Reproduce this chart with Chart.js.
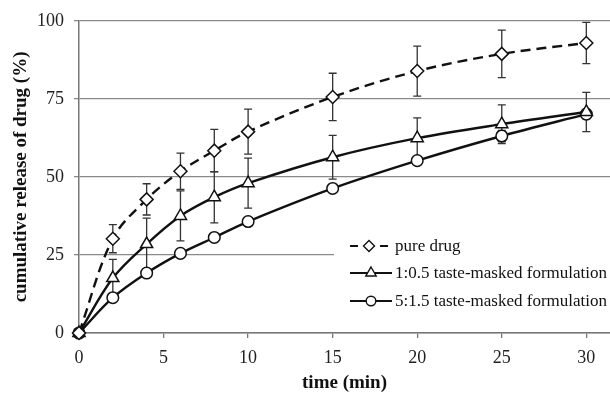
<!DOCTYPE html>
<html>
<head>
<meta charset="utf-8">
<script src="https://cdn.jsdelivr.net/npm/chart.js@4/dist/chart.umd.min.js"></script>
<style>body{margin:0;background:#fff}</style>
</head>
<body>
<canvas id="myChart" width="610" height="393"></canvas>
<script>
const times = [0, 2, 4, 6, 8, 10, 15, 20, 25, 30];
const xTicks = [0, 5, 10, 15, 20, 25, 30];
const yTicks = [0, 25, 50, 75, 100];

const pureDrug = [0, 30.2, 42.8, 51.8, 58.4, 64.5, 75.6, 83.9, 89.4, 92.9];
const pureDrugErr = [0, 4.5, 5, 5.8, 6.8, 7.2, 7.6, 8, 7.6, 6.6];
const tm105 = [0, 17.6, 28.5, 37.5, 43.5, 48, 56.3, 62.4, 66.9, 70.8];
const tm105Err = [0, 6, 8.3, 8, 8.2, 8, 7, 6.5, 6.2, 6.3];
const tm515 = [0, 11.3, 19.2, 25.5, 30.6, 35.7, 46.3, 55.2, 63.1, 70.1];
const tm515Err = [0, 0.8, 0.8, 0.8, 0.8, 0.8, 1, 1.2, 1.8, 1.5];

const serif = "'Liberation Serif', 'Times New Roman', serif";
const toPoints = (vals) => times.map((t, i) => ({ x: t, y: vals[i] }));

const errorBars = {
  id: "errorBars",
  beforeDatasetsDraw(chart) {
    const ctx = chart.ctx;
    const xs = chart.scales.x;
    const ys = chart.scales.y;
    ctx.save();
    ctx.strokeStyle = "#333";
    ctx.lineWidth = 1.3;
    chart.data.datasets.forEach((ds) => {
      ds.errors.forEach((e, i) => {
        if (!e) return;
        const px = xs.getPixelForValue(times[i]);
        const top = ys.getPixelForValue(ds.data[i].y + e);
        const bot = ys.getPixelForValue(ds.data[i].y - e);
        ctx.beginPath();
        ctx.moveTo(px, top);
        ctx.lineTo(px, bot);
        ctx.moveTo(px - 4, top);
        ctx.lineTo(px + 4, top);
        ctx.moveTo(px - 4, bot);
        ctx.lineTo(px + 4, bot);
        ctx.stroke();
      });
    });
    ctx.restore();
  },
};

const boxLegend = {
  id: "boxLegend",
  afterDraw(chart) {
    const ctx = chart.ctx;
    ctx.save();
    ctx.fillStyle = "#fff";
    ctx.fillRect(334, 230, 276, 88);
    const rows = [246, 273, 301];
    chart.data.datasets.forEach((ds, i) => {
      const y = rows[i];
      ctx.strokeStyle = "#111";
      ctx.lineWidth = 2.2;
      ctx.beginPath();
      if (ds.borderDash) {
        ctx.moveTo(350, y); ctx.lineTo(358, y);
        ctx.moveTo(380, y); ctx.lineTo(388, y);
      } else {
        ctx.moveTo(350, y); ctx.lineTo(392, y);
      }
      ctx.stroke();
      ctx.fillStyle = "#fff";
      ctx.lineWidth = 1.4;
      Chart.helpers.drawPoint(ctx, {
        pointStyle: ds.pointStyle,
        radius: ds.pointRadius - 1,
        rotation: 0,
        borderWidth: 1.4,
      }, ds.borderDash ? 369 : 371, y);
      ctx.fillStyle = "#111";
      ctx.font = "17px " + serif;
      ctx.textBaseline = "middle";
      ctx.textAlign = "left";
      ctx.fillText(ds.label, 395, y + 1);
    });
    ctx.restore();
  },
};

const common = {
  borderColor: "#111",
  borderWidth: 2.4,
  pointBackgroundColor: "#fff",
  pointBorderColor: "#111",
  pointBorderWidth: 1.5,
  tension: 0.35,
  clip: false,
};

const data = {
  datasets: [
    {
      ...common,
      label: "pure drug",
      data: toPoints(pureDrug),
      errors: pureDrugErr,
      borderDash: [10, 6],
      pointStyle: "rectRot",
      pointRadius: 6.5,
    },
    {
      ...common,
      label: "1:0.5 taste-masked formulation",
      data: toPoints(tm105),
      errors: tm105Err,
      pointStyle: "triangle",
      pointRadius: 7,
    },
    {
      ...common,
      label: "5:1.5 taste-masked formulation",
      data: toPoints(tm515),
      errors: tm515Err,
      pointStyle: "circle",
      pointRadius: 5.8,
    },
  ],
};

const config = {
  type: "line",
  data: data,
  options: {
    responsive: false,
    animation: false,
    devicePixelRatio: 1,
    layout: { autoPadding: false, padding: { top: 18, right: 0, left: 0, bottom: 0 } },
    plugins: {
      legend: { display: false },
      tooltip: { enabled: false },
    },
    scales: {
      x: {
        type: "linear",
        min: 0,
        max: 31.4,
        afterBuildTicks: (s) => { s.ticks = xTicks.map((v) => ({ value: v })); },
        afterFit: (s) => { s.height = 60; },
        border: { color: "#777", width: 1.5 },
        grid: { drawOnChartArea: false, drawTicks: true, tickLength: 5, color: "#777", lineWidth: 1.3 },
        ticks: { color: "#222", padding: 9, maxRotation: 0, font: { family: serif, size: 18 } },
        title: {
          display: true,
          text: "time (min)",
          color: "#111",
          padding: { top: 0, bottom: 0 },
          font: { family: serif, size: 19, weight: "bold", lineHeight: 1 },
        },
      },
      y: {
        min: 0,
        max: 100,
        afterBuildTicks: (s) => { s.ticks = yTicks.map((v) => ({ value: v })); },
        afterFit: (s) => { s.width = 79; },
        border: { color: "#777", width: 1.5 },
        grid: { color: "#8a8a8a", lineWidth: 1.3, tickLength: 5 },
        ticks: { color: "#222", padding: 10, font: { family: serif, size: 18 } },
        title: {
          display: true,
          text: "cumulative release of drug (%)",
          color: "#111",
          padding: { top: 12, bottom: 0 },
          font: { family: serif, size: 19, weight: "bold", lineHeight: 1 },
        },
      },
    },
  },
  plugins: [errorBars, boxLegend],
};

const myChart = new Chart(document.getElementById("myChart"), config);
</script>
</body>
</html>
